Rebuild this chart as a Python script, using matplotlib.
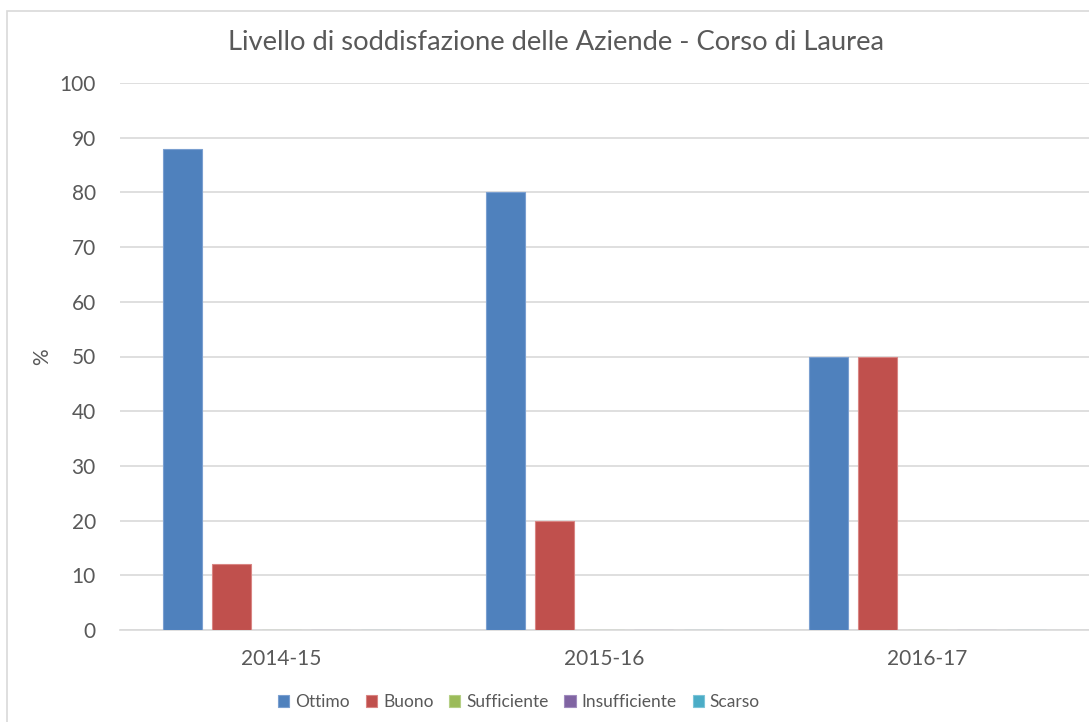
import numpy as np
import matplotlib.pyplot as plt
from matplotlib.patches import Rectangle

categories = ['2014-15', '2015-16', '2016-17']
series = ['Ottimo', 'Buono', 'Sufficiente', 'Insufficiente', 'Scarso']
values = [
    [88, 80, 50],   # Ottimo
    [12, 20, 50],   # Buono
    [0, 0, 0],      # Sufficiente
    [0, 0, 0],      # Insufficiente
    [0, 0, 0],      # Scarso
]
colors = ['#4F81BD', '#C0504D', '#9BBB59', '#8064A2', '#4BACC6']
edges = ['#7A9FD0', '#D98583', '#B5CF85', '#A08BBE', '#7CC4D8']

plt.rcParams['font.family'] = ['Lato', 'DejaVu Sans']
txt = '#595959'
grid = '#D9D9D9'

W, H = 1089, 722
fig = plt.figure(figsize=(W / 100, H / 100), dpi=100)

# chart border (cropped on the right and bottom in the reference)
fig.patches.append(Rectangle((7 / W, -0.1), 1.2, 1 - 11 / H + 0.1,
                             transform=fig.transFigure, fill=False,
                             edgecolor=grid, linewidth=1.2))

left, right = 119.5 / W, 1088.5 / W
bottom, top = 1 - 630 / H, 1 - 83 / H
ax = fig.add_axes([left, bottom, right - left, top - bottom])

x = np.arange(len(categories))
step, width = 49.5 / 323, 39 / 323
for i, (name, vals) in enumerate(zip(series, values)):
    ax.bar(x + (i - 2) * step, vals, width=width, color=colors[i],
           edgecolor=edges[i], linewidth=0.8, label=name, zorder=3)

ax.set_xlim(-0.5, 2.5)
ax.set_ylim(0, 100)
ax.set_yticks(range(0, 101, 10))
ax.set_xticks(x)
ax.set_xticklabels(categories)
ax.tick_params(axis='y', length=0, pad=17, labelsize=15, labelcolor=txt)
ax.tick_params(axis='x', length=0, pad=14, labelsize=15, labelcolor=txt)
ax.grid(axis='y', color=grid, linewidth=1.2, zorder=0)
for s in ['top', 'right', 'left']:
    ax.spines[s].set_visible(False)
ax.spines['bottom'].set_color(grid)
ax.spines['bottom'].set_linewidth(1.2)

fig.text(42 / W, 1 - 357 / H, '%', rotation=90, ha='center', va='center',
         fontsize=15, color=txt)

fig.text(556 / W, 1 - 43 / H, 'Livello di soddisfazione delle Aziende - Corso di Laurea',
         ha='center', va='center', fontsize=19.7, color=txt)

fig.legend(*ax.get_legend_handles_labels(), loc='center',
           bbox_to_anchor=(519 / W, 1 - 702 / H), ncol=5, frameon=False,
           fontsize=12.5, labelcolor=txt, handlelength=0.65, handleheight=0.65,
           handletextpad=0.35, columnspacing=0.9)

fig.savefig('out.png', dpi=100)
